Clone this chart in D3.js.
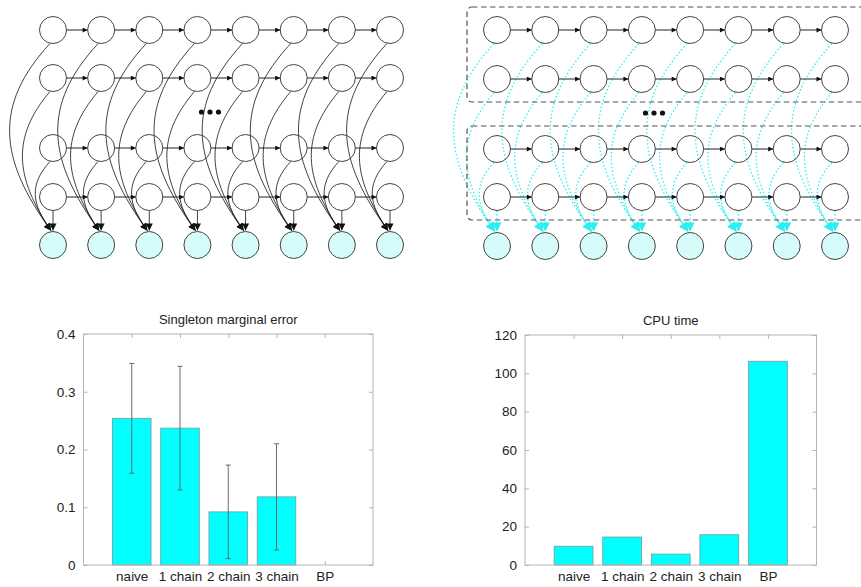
<!DOCTYPE html>
<html>
<head>
<meta charset="utf-8">
<script src="https://cdn.jsdelivr.net/npm/d3@7/dist/d3.min.js"></script>
<style>
  html, body { margin: 0; padding: 0; background: #fff; }
  svg { display: block; }
  text { font-family: "Liberation Sans", Arial, Helvetica, sans-serif; fill: #222; }
</style>
</head>
<body>
<svg id="fig" width="861" height="587"></svg>
<script>
// Factorial HMM structure: hidden chains shown, one observation per time step
const timeSteps = d3.range(8);
const shownChains = [0, 1, 2, 3];      // chains drawn (the gap between 1 and 2 is the "...")
const chainBulge = [60, 42, 24, 0];     // how far each chain's emission edge swings left

// Bar chart data
const categories = ["naive", "1 chain", "2 chain", "3 chain", "BP"];
const marginalError = [0.254, 0.237, 0.092, 0.118, 0];
const marginalErrorSpread = [0.095, 0.107, 0.081, 0.092, 0];
const cpuTime = [9.8, 14.6, 5.7, 15.8, 106.3];
const errorTicks = [0, 0.1, 0.2, 0.3, 0.4];
const cpuTicks = [0, 20, 40, 60, 80, 100, 120];

const svg = d3.select("#fig");
const defs = svg.append("defs");

function marker(id, color, w, h) {
  defs.append("marker")
    .attr("id", id)
    .attr("viewBox", "0 0 10 10")
    .attr("refX", 10).attr("refY", 5)
    .attr("markerUnits", "userSpaceOnUse")
    .attr("markerWidth", w).attr("markerHeight", h)
    .attr("orient", "auto")
    .append("path")
    .attr("d", "M0,0 L10,5 L0,10 Z")
    .attr("fill", color);
}
marker("arrowBlack", "#111", 7, 5);
marker("arrowEmitBlack", "#111", 8, 7);
marker("arrowCyan", "#2af0f2", 10, 9);

const R = 13.5;

function drawModel(g, opts) {
  const x = d3.scaleLinear().domain([0, 7]).range(opts.xRange);
  const y = d3.scaleOrdinal().domain(shownChains).range(opts.rowY);
  const obsY = opts.obsY;

  // emission edges, hidden state -> observation at the same step
  const edges = [];
  shownChains.forEach(ch => timeSteps.forEach(t => edges.push({ ch, t })));
  g.append("g").selectAll("path").data(edges).join("path")
    .attr("d", d => {
      const cx = x(d.t), cy = y(d.ch), k = chainBulge[d.ch];
      const p = d3.path();
      const y0 = cy + R, y1 = obsY - R - 1;
      const span = y1 - y0;
      if (k === 0) {
        p.moveTo(cx, y0);
        p.lineTo(cx, y1);
      } else {
        p.moveTo(cx - 3, y0);
        p.bezierCurveTo(cx - k, y0 + span * 0.33, cx - k * 0.9, y1 - span * 0.38, cx - 2, y1);
      }
      return p.toString();
    })
    .attr("fill", "none")
    .attr("stroke", opts.emitColor)
    .attr("stroke-width", opts.emitWidth)
    .attr("stroke-dasharray", opts.emitDash)
    .attr("marker-end", `url(#${opts.emitMarker})`);

  // transitions along each chain
  const trans = [];
  shownChains.forEach(ch => timeSteps.slice(1).forEach(t => trans.push({ ch, t })));
  g.append("g").selectAll("line").data(trans).join("line")
    .attr("x1", d => x(d.t - 1) + R)
    .attr("x2", d => x(d.t) - R)
    .attr("y1", d => y(d.ch))
    .attr("y2", d => y(d.ch))
    .attr("stroke", "#222")
    .attr("stroke-width", 1)
    .attr("marker-end", "url(#arrowBlack)");

  // hidden nodes
  g.append("g").selectAll("circle").data(edges).join("circle")
    .attr("cx", d => x(d.t)).attr("cy", d => y(d.ch)).attr("r", R)
    .attr("fill", "#fff").attr("fill-opacity", 0)
    .attr("stroke", "#444").attr("stroke-width", 1);

  // observed nodes
  g.append("g").selectAll("circle").data(timeSteps).join("circle")
    .attr("cx", d => x(d)).attr("cy", obsY).attr("r", R)
    .attr("fill", "#d6fbfb")
    .attr("stroke", "#444").attr("stroke-width", 1);

  // ellipsis between chain 1 and chain 2
  g.append("g").selectAll("circle").data([-1, 0, 1]).join("circle")
    .attr("cx", d => opts.dotsX + d * 8.5).attr("cy", opts.dotsY).attr("r", 2.6)
    .attr("fill", "#111");
  return x;
}

// left: exact model
drawModel(svg.append("g"), {
  xRange: [53, 390], rowY: [30, 78, 148, 197], obsY: 245,
  emitColor: "#111", emitWidth: 0.8, emitDash: null, emitMarker: "arrowEmitBlack",
  dotsX: 210, dotsY: 112
});

// right: structured variational approximation, chain groups boxed
const gR = svg.append("g");
drawModel(gR, {
  xRange: [497, 835], rowY: [30, 79, 149, 197], obsY: 246,
  emitColor: "#2af0f2", emitWidth: 1.3, emitDash: "1.5,2.2", emitMarker: "arrowCyan",
  dotsX: 654, dotsY: 113
});
const groups = [[7, 102], [126, 220]];
gR.append("g").selectAll("rect").data(groups).join("rect")
  .attr("x", 467).attr("y", d => d[0])
  .attr("width", 420).attr("height", d => d[1] - d[0])
  .attr("rx", 5).attr("ry", 5)
  .attr("fill", "none").attr("stroke", "#555")
  .attr("stroke-width", 1.2).attr("stroke-dasharray", "5.5,3.5");

// MATLAB-style bar plot
function barPlot(opts) {
  const g = svg.append("g");
  const x = d3.scaleLinear().domain([0, categories.length + 1]).range([opts.left, opts.right]);
  const y = d3.scaleLinear().domain(opts.domain).range([opts.bottom, opts.top]);
  const bw = x(0.8) - x(0);
  const boxColor = "#b4b4b4";
  const tickLen = 4;
  const fontSize = "13.5px";

  // bars
  g.append("g").selectAll("rect")
    .data(opts.values.map((v, i) => ({ v, i })).filter(d => d.v > 0))
    .join("rect")
    .attr("x", d => x(d.i + 1) - bw / 2)
    .attr("width", bw)
    .attr("y", d => y(d.v))
    .attr("height", d => y(0) - y(d.v))
    .attr("fill", "#00ffff")
    .attr("stroke", "#7a9a9a").attr("stroke-width", 0.8);

  // error bars
  if (opts.spread) {
    const eb = g.append("g").attr("stroke", "#5e5e5e").attr("stroke-width", 0.9);
    const ed = opts.values.map((v, i) => ({ v, s: opts.spread[i], i })).filter(d => d.s > 0);
    eb.selectAll("line.v").data(ed).join("line")
      .attr("x1", d => x(d.i + 1)).attr("x2", d => x(d.i + 1))
      .attr("y1", d => y(d.v - d.s)).attr("y2", d => y(d.v + d.s));
    ["lo", "hi"].forEach(side => {
      eb.selectAll("line." + side).data(ed).join("line")
        .attr("x1", d => x(d.i + 1) - 2.5).attr("x2", d => x(d.i + 1) + 2.5)
        .attr("y1", d => y(side === "lo" ? d.v - d.s : d.v + d.s))
        .attr("y2", d => y(side === "lo" ? d.v - d.s : d.v + d.s));
    });
  }

  // frame
  g.append("rect")
    .attr("x", opts.left).attr("y", opts.top)
    .attr("width", opts.right - opts.left).attr("height", opts.bottom - opts.top)
    .attr("fill", "none").attr("stroke", boxColor).attr("stroke-width", 1);

  // y ticks on both sides, pointing inward
  const yAxisL = d3.axisLeft(y).tickValues(opts.ticks).tickSizeInner(-tickLen).tickSizeOuter(0)
    .tickPadding(tickLen + 4).tickFormat(opts.format);
  const gyl = g.append("g").attr("transform", `translate(${opts.left},0)`).call(yAxisL);
  gyl.select(".domain").remove();
  gyl.selectAll(".tick line").attr("stroke", boxColor);
  gyl.selectAll(".tick text").style("font-size", fontSize).attr("fill", "#222")
    .style("font-family", '"Liberation Sans", Arial, sans-serif');

  const yAxisR = d3.axisRight(y).tickValues(opts.ticks).tickSizeInner(-tickLen).tickSizeOuter(0).tickFormat("");
  const gyr = g.append("g").attr("transform", `translate(${opts.right},0)`).call(yAxisR);
  gyr.select(".domain").remove();
  gyr.selectAll(".tick line").attr("stroke", boxColor);

  // x ticks at category positions, bottom and top
  const cx = d3.range(1, categories.length + 1);
  const xAxisB = d3.axisBottom(x).tickValues(cx).tickSizeInner(-tickLen).tickSizeOuter(0)
    .tickPadding(tickLen + 2).tickFormat(d => categories[d - 1]);
  const gxb = g.append("g").attr("transform", `translate(0,${opts.bottom})`).call(xAxisB);
  gxb.select(".domain").remove();
  gxb.selectAll(".tick line").attr("stroke", boxColor);
  gxb.selectAll(".tick text").style("font-size", fontSize).attr("fill", "#222")
    .style("font-family", '"Liberation Sans", Arial, sans-serif');

  const xAxisT = d3.axisTop(x).tickValues(cx).tickSizeInner(-tickLen).tickSizeOuter(0).tickFormat("");
  const gxt = g.append("g").attr("transform", `translate(0,${opts.top})`).call(xAxisT);
  gxt.select(".domain").remove();
  gxt.selectAll(".tick line").attr("stroke", boxColor);

  g.append("text")
    .attr("x", (opts.left + opts.right) / 2).attr("y", opts.top - 10)
    .attr("text-anchor", "middle")
    .style("font-size", "13px")
    .text(opts.title);
}

barPlot({
  left: 83.5, right: 373, top: 334, bottom: 565,
  domain: [0, 0.4], ticks: errorTicks, format: d => d === 0 ? "0" : d3.format(".1f")(d),
  values: marginalError, spread: marginalErrorSpread,
  title: "Singleton marginal error"
});

barPlot({
  left: 525, right: 816.5, top: 335, bottom: 565,
  domain: [0, 120], ticks: cpuTicks, format: d3.format("d"),
  values: cpuTime, spread: null,
  title: "CPU time"
});
</script>
</body>
</html>
